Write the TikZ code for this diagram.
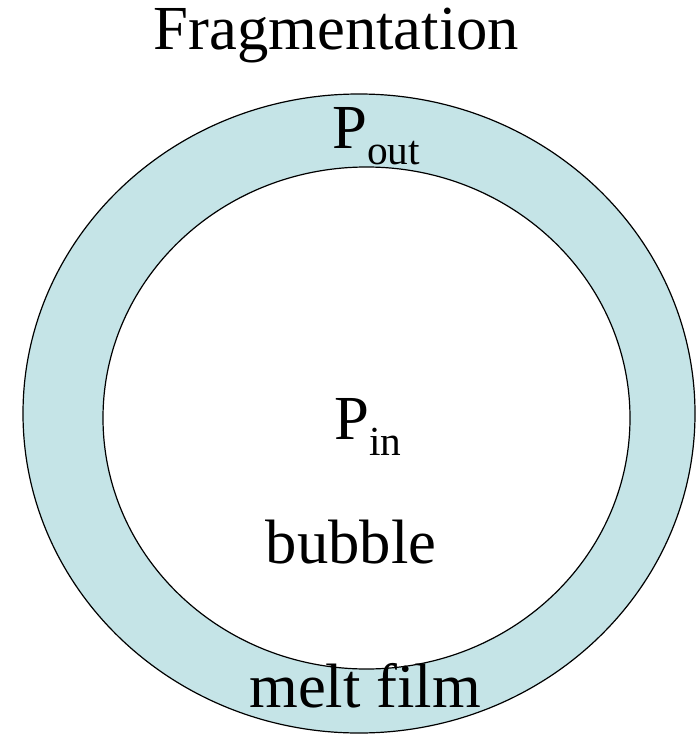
\documentclass[tikz,border=0pt]{standalone}
\usepackage{fontspec}
\setmainfont{Liberation Serif}
\usepackage{tikz}
\usetikzlibrary{positioning}
\definecolor{filmblue}{RGB}{197,228,231}
\newcommand{\lowsub}[1]{\raisebox{-12pt}{\fontsize{31}{31}\selectfont #1}}

\begin{document}
\begin{tikzpicture}[
  x=0.75pt, y=-0.75pt,
  lbl/.style={inner sep=0pt, font=\fontsize{47}{56}\selectfont},
  edge/.style={draw=black, line width=0.9pt}
]
\useasboundingbox (0,0) rectangle (698,735);
% melt film and bubble
\path[edge, fill=filmblue] (359,413.5) ellipse [x radius=336, y radius=319.5];
\path[edge, fill=white] (366.5,418) ellipse [x radius=263.5, y radius=251];

\node[lbl, anchor=base] (title) at (336.5,50) {Fragmentation};
\node[lbl, anchor=base west] (pout) at (332,148) {P\lowsub{out}};
\node[lbl, anchor=base west] (pin) at (334,439) {P\lowsub{in}};
\node[lbl, anchor=base] (bubble) at (351,563) {bubble};
\node[lbl, anchor=base] (film) at (365,707) {melt film};
\end{tikzpicture}
\end{document}
